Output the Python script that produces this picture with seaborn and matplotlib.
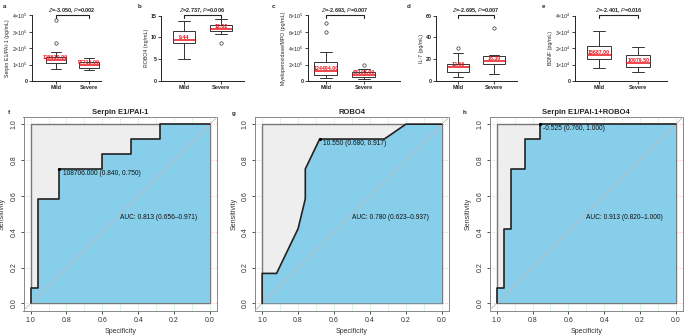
import pandas as pd
import matplotlib
matplotlib.use("Agg")
import matplotlib.pyplot as plt
import matplotlib.transforms as mtrans
import seaborn as sns

# ---- box plot data (Mild / Severe) ----
groups = ["Mild", "Severe"]

serpin_mild = [72000, 88000, 101000, 109000, 116000, 122000, 128630, 134000, 141000, 148000, 180000, 232000, 373000]
serpin_severe = [66000, 70000, 76000, 80000, 86000, 92000, 97715, 102000, 110000, 117000, 125000, 133000, 140000]

robo4_mild = [5.1, 6.9, 8.0, 8.66, 8.9, 9.2, 9.44, 10.1, 10.9, 11.5, 12.4, 13.1, 13.8]
robo4_severe = [8.66, 10.7, 11.1, 11.4, 11.6, 11.8, 12.02, 12.3, 12.6, 12.9, 13.3, 13.8, 14.25]

mpo_mild = [32000, 51000, 66000, 77000, 92000, 108000, 124494, 150000, 190000, 235000, 360000, 597000, 707000]
mpo_severe = [20000, 30000, 42000, 50000, 56000, 62000, 68108, 78000, 92000, 105000, 125000, 146000, 195000]

il7_mild = [4.0, 5.5, 7.2, 8.3, 9.8, 11.4, 12.66, 13.5, 14.4, 15.3, 19.0, 25.4, 30.6]
il7_severe = [6.2, 10.5, 13.8, 15.3, 16.2, 17.4, 18.3, 19.5, 21.0, 23.0, 23.6, 24.0, 48.4]

bdnf_mild = [8100, 10500, 12300, 13400, 14200, 15000, 15687, 17000, 19200, 21100, 24000, 27500, 30500]
bdnf_severe = [5500, 6600, 7600, 8300, 9000, 10100, 10979.5, 12000, 13900, 15800, 17500, 19000, 20500]

box_ylabels = ["Serpin E1/PAI-1 (pg/mL)", "ROBO4 (ng/mL)", "Myeloperoxidase/MPO (pg/mL)",
               "IL-7 (pg/mL)", "BDNF (pg/mL)"]
box_stats = [r"$Z$=-3.050, $P$=0.002", r"$Z$=2.737, $P$=0.006", r"$Z$=-2.693, $P$=0.007",
             r"$Z$=-2.695, $P$=0.007", r"$Z$=-2.401, $P$=0.016"]
box_yticks = [[0, 1e5, 2e5, 3e5, 4e5], [0, 5, 10, 15], [0, 2e5, 4e5, 6e5, 8e5],
              [0, 20, 40, 60], [0, 1e4, 2e4, 3e4, 4e4]]
box_yticklabels = [["0", r"$1{\times}10^5$", r"$2{\times}10^5$", r"$3{\times}10^5$", r"$4{\times}10^5$"],
                   ["0", "5", "10", "15"],
                   ["0", r"$2{\times}10^5$", r"$4{\times}10^5$", r"$6{\times}10^5$", r"$8{\times}10^5$"],
                   ["0", "20", "40", "60"],
                   ["0", r"$1{\times}10^4$", r"$2{\times}10^4$", r"$3{\times}10^4$", r"$4{\times}10^4$"]]

# ---- ROC curve data (specificity, sensitivity) ----
roc_titles = ["Serpin E1/PAI-1", "ROBO4", "Serpin E1/PAI-1+ROBO4"]
roc_f_spec = [1.0, 1.0, 0.96, 0.96, 0.84, 0.84, 0.60, 0.60, 0.44, 0.44, 0.28, 0.28, 0.0]
roc_f_sens = [0.0, 0.083, 0.083, 0.583, 0.583, 0.750, 0.750, 0.833, 0.833, 0.917, 0.917, 1.0, 1.0]
roc_g_spec = [1.0, 1.0, 0.92, 0.80, 0.76, 0.76, 0.68, 0.32, 0.20, 0.0]
roc_g_sens = [0.0, 0.167, 0.167, 0.417, 0.583, 0.750, 0.917, 0.917, 1.0, 1.0]
roc_h_spec = [1.0, 1.0, 0.96, 0.96, 0.92, 0.92, 0.84, 0.84, 0.76, 0.76, 0.0]
roc_h_sens = [0.0, 0.083, 0.083, 0.417, 0.417, 0.750, 0.750, 0.917, 0.917, 1.0, 1.0]
roc_thres_pt = [(0.84, 0.75), (0.68, 0.917), (0.76, 1.0)]
roc_thres_txt = ["108706.000 (0.840, 0.750)", "10.550 (0.680, 0.917)", "-0.525 (0.760, 1.000)"]
roc_auc_txt = ["AUC: 0.813 (0.656\u20130.971)", "AUC: 0.780 (0.623\u20130.937)", "AUC: 0.913 (0.820\u20131.000)"]

sns.set_theme(style="white")
plt.rcParams["font.family"] = ["Liberation Sans", "DejaVu Sans"]
plt.rcParams["mathtext.fontset"] = "custom"
plt.rcParams["mathtext.rm"] = "Liberation Sans"
plt.rcParams["mathtext.it"] = "Liberation Sans:italic"

W, H = 685, 336
fig = plt.figure(figsize=(W / 100, H / 100), dpi=100)


def rect(x0, x1, y0, y1):
    return [x0 / W, 1 - y1 / H, (x1 - x0) / W, (y1 - y0) / H]


# ---------------- top row: box plots ----------------
box_data = [(serpin_mild, serpin_severe), (robo4_mild, robo4_severe), (mpo_mild, mpo_severe),
            (il7_mild, il7_severe), (bdnf_mild, bdnf_severe)]
box_rects = [(32, 101), (161, 244), (308, 400), (436, 517), (575, 667)]
box_xlims = [(-0.71, 1.36), (-0.62, 1.62), (-0.47, 1.95), (-0.61, 1.64), (-0.62, 1.74)]
box_letters = ["a", "b", "c", "d", "e"]
letter_x = [3, 138, 272, 407, 542]

for i, (mild, severe) in enumerate(box_data):
    x0, x1 = box_rects[i]
    ax = fig.add_axes(rect(x0, x1, 15.5, 81))
    df = pd.DataFrame({"group": [groups[0]] * len(mild) + [groups[1]] * len(severe),
                       "value": mild + severe})
    sns.boxplot(data=df, x="group", y="value", ax=ax, width=0.6, color="white",
                linecolor="#333333", linewidth=0.7, fliersize=2.4,
                medianprops=dict(color="#e8141c", linewidth=1.1),
                flierprops=dict(marker="o", markerfacecolor="none",
                                markeredgecolor="#333333", markeredgewidth=0.5))
    ax.set_xlim(*box_xlims[i])
    ax.set_ylim(box_yticks[i][0], box_yticks[i][-1])
    ax.set_yticks(box_yticks[i])
    ax.set_yticklabels(box_yticklabels[i])
    ax.set_xlabel("")
    ax.set_ylabel(box_ylabels[i], fontsize=3.8, labelpad=1.5)
    sns.despine(ax=ax)
    for s in ["left", "bottom"]:
        ax.spines[s].set_color("#222222")
        ax.spines[s].set_linewidth(0.7)
    ax.tick_params(axis="both", labelsize=3.8, length=2, width=0.6, pad=1,
                   left=True, bottom=True, colors="#222222")
    for t in ax.get_xticklabels():
        t.set_fontweight("bold")
        t.set_fontsize(4)
    for t in ax.get_yticklabels():
        t.set_fontweight("bold")
    # median labels
    for j, vals in enumerate([mild, severe]):
        med = pd.Series(vals).median()
        ax.text(j, med, f"{med:.2f}", color="#e8141c", fontsize=3.8, ha="center",
                va="bottom", fontweight="bold")
    # significance bracket
    tr = mtrans.blended_transform_factory(ax.transData, ax.transAxes)
    ax.plot([0, 0, 1, 1], [0.965, 1.01, 1.01, 0.965], color="#222222", lw=0.8,
            transform=tr, clip_on=False)
    ax.text(0.5, 1.075, box_stats[i], transform=tr, ha="center", va="center",
            fontsize=4, fontweight="bold")
    fig.text(letter_x[i] / W, 1 - 6 / H, box_letters[i], fontsize=4.5,
             fontweight="bold", va="center")

# ---------------- bottom row: ROC curves ----------------
roc_data = [(roc_f_spec, roc_f_sens), (roc_g_spec, roc_g_sens), (roc_h_spec, roc_h_sens)]
roc_rects = [(23.5, 217), (255, 449), (489.5, 683)]
roc_letters = ["f", "g", "h"]
roc_letter_x = [8, 232, 463]

for i, (spec, sens) in enumerate(roc_data):
    x0, x1 = roc_rects[i]
    ax = fig.add_axes(rect(x0, x1, 117, 310.5))
    ax.set_xlim(1.04, -0.04)
    ax.set_ylim(-0.04, 1.04)
    # pROC-style grid
    for g in [k / 10 for k in range(11)]:
        ax.axvline(g, color="#7fd67f", lw=0.5, ls=(0, (1, 2)), zorder=0)
    for g in [k / 5 for k in range(6)]:
        ax.axhline(g, color="#f19a9a", lw=0.5, ls=(0, (1, 2)), zorder=0)
    # max polygon and AUC polygon
    ax.fill([1, 1, 0, 0], [0, 1, 1, 0], facecolor="#eeeeee", edgecolor="#777777",
            lw=1.0, zorder=1)
    ax.fill(spec + [0.0], sens + [0.0], facecolor="#87ceeb", edgecolor="none", zorder=2)
    ax.axline((1, 0), (0, 1), color="#bbbbbb", lw=0.6, zorder=3)
    sns.lineplot(x=spec, y=sens, sort=False, estimator=None, ax=ax, color="#222222",
                 lw=1.2, zorder=4)
    px, py = roc_thres_pt[i]
    ax.plot(px, py, "o", color="black", ms=1.3, zorder=5)
    ax.annotate(roc_thres_txt[i], (px, py), xytext=(2.5, -0.5), textcoords="offset points",
                ha="left", va="top", fontsize=4.8, color="#111111", zorder=6)
    ax.text(0.5, 0.5, roc_auc_txt[i], ha="left", va="top", fontsize=4.8,
            color="#111111", zorder=6)
    ax.set_xticks([1.0, 0.8, 0.6, 0.4, 0.2, 0.0])
    ax.set_xticklabels(["1.0", "0.8", "0.6", "0.4", "0.2", "0.0"])
    ax.set_yticks([0.0, 0.2, 0.4, 0.6, 0.8, 1.0])
    ax.set_yticklabels(["0.0", "0.2", "0.4", "0.6", "0.8", "1.0"], rotation=90, va="center")
    ax.tick_params(axis="both", labelsize=5, length=2.5, width=0.6, pad=2,
                   left=True, bottom=True, colors="#333333")
    ax.set_xlabel("Specificity", fontsize=5, labelpad=3, color="#333333")
    ax.set_ylabel("Sensitivity", fontsize=5, labelpad=3, color="#333333")
    for s in ax.spines.values():
        s.set_color("#888888")
        s.set_linewidth(0.7)
    ax.set_title(roc_titles[i], fontsize=5.5, fontweight="bold", pad=2.5)
    fig.text(roc_letter_x[i] / W, 1 - 113 / H, roc_letters[i], fontsize=4.5,
             fontweight="bold", va="center")

fig.savefig("out.png", dpi=100, facecolor="white")
